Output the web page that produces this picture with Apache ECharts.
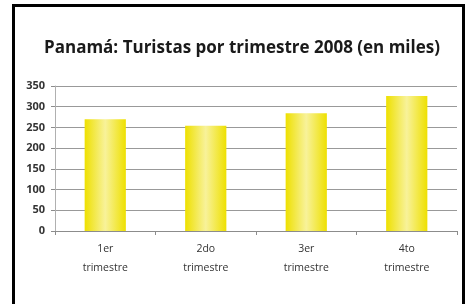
<!DOCTYPE html>
<html>
<head>
<meta charset="utf-8">
<script src="https://cdn.jsdelivr.net/npm/echarts@6/dist/echarts.min.js"></script>
<style>html,body{margin:0;padding:0;background:#fff}#c{width:465px;height:304px}</style>
</head>
<body>
<div id="c"></div>
<script>
const titleText = 'Panamá: Turistas por trimestre 2008 (en miles)';
const categories = ['1er\ntrimestre', '2do\ntrimestre', '3er\ntrimestre', '4to\ntrimestre'];
const turistas = [270, 254, 284, 326];
const yTicks = [0, 50, 100, 150, 200, 250, 300, 350];

const chart = echarts.init(document.getElementById('c'), null, {renderer: 'canvas'});
chart.setOption({
  animation: false,
  backgroundColor: '#fff',
  title: {
    text: titleText,
    left: 237, textAlign: 'center', top: 35,
    textStyle: {fontFamily: 'Open Sans', fontWeight: 'bold', fontSize: 17, color: '#1a1a1a'}
  },
  graphic: [
    {type: 'polyline', shape: {points: [[13.5, 320], [13.5, 5.5], [463.5, 5.5], [463.5, 320]]},
     style: {stroke: '#000', lineWidth: 3, fill: null}}
  ],
  grid: {left: 55, right: 8, top: 86, bottom: 73},
  xAxis: {
    type: 'category', data: categories,
    axisLine: {lineStyle: {color: '#8c8c8c', width: 1}},
    axisTick: {show: true, length: 4, lineStyle: {color: '#8c8c8c'}},
    axisLabel: {fontFamily: 'Open Sans', fontSize: 10.5, color: '#333', lineHeight: 19, margin: 9}
  },
  yAxis: {
    type: 'value', min: yTicks[0], max: yTicks[yTicks.length - 1], interval: 50,
    axisLine: {show: true, lineStyle: {color: '#b0b0b0'}},
    axisTick: {show: true, length: 4, lineStyle: {color: '#8c8c8c'}},
    splitLine: {lineStyle: {color: '#999', width: 1}},
    axisLabel: {fontFamily: 'Open Sans', fontSize: 11, fontWeight: 'bold', color: '#333', margin: 10}
  },
  series: [{
    type: 'bar', data: turistas, barWidth: '41%',
    itemStyle: {
      color: new echarts.graphic.LinearGradient(0, 0, 1, 0, [
        {offset: 0, color: '#EEE000'},
        {offset: 0.5, color: '#F8F29A'},
        {offset: 1, color: '#EEE000'}
      ])
    }
  }]
});
</script>
</body>
</html>
